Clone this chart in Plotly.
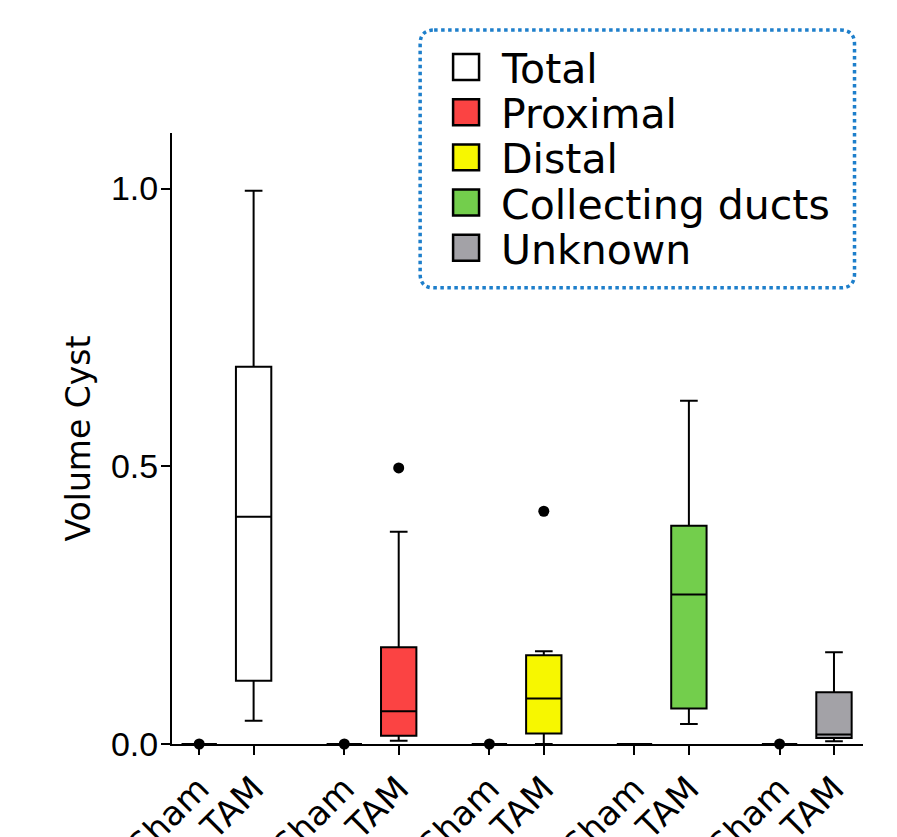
import plotly.graph_objects as go

# Tubule segments and colours
segments = ["Total", "Proximal", "Distal", "Collecting ducts", "Unknown"]
fill_colors = ["#FFFFFF", "#FB4343", "#F7F700", "#73CE4C", "#A3A2A7"]
conditions = ["Sham", "TAM"]

# Box statistics (Volume Cyst) per segment
sham_lower = [0.0, 0.0, 0.0, 0.0, 0.0]
sham_q1 = [0.0, 0.0, 0.0, 0.0, 0.0]
sham_median = [0.0, 0.0, 0.0, 0.0, 0.0]
sham_q3 = [0.0, 0.0, 0.0, 0.0, 0.0]
sham_upper = [0.0, 0.0, 0.0, 0.0, 0.0]
sham_outliers = [[0.0], [0.0], [0.0], [], [0.0]]

tam_lower = [0.042, 0.006, 0.0, 0.036, 0.005]
tam_q1 = [0.114, 0.015, 0.019, 0.064, 0.011]
tam_median = [0.409, 0.059, 0.082, 0.269, 0.017]
tam_q3 = [0.679, 0.174, 0.160, 0.393, 0.093]
tam_upper = [0.996, 0.382, 0.167, 0.618, 0.165]
tam_outliers = [[], [0.497], [0.419], [], []]

y_ticks = [0.0, 0.5, 1.0]

# Layout geometry (pixels)
FIG_W, FIG_H = 897, 837
M_L, M_R, M_T, M_B = 171.5, 33.5, 133, 92.5
GROUP_STEP = 8 / 3
X_RANGE = [-0.5, 12.2]
Y_RANGE = [0, 1.1]
PLOT_W = FIG_W - M_L - M_R
PLOT_H = FIG_H - M_T - M_B


def px_x(px):
    return (px - M_L) / PLOT_W


def px_y(py):
    return (FIG_H - M_B - py) / PLOT_H


fig = go.Figure()

tick_pos, tick_txt = [], []
stats = {
    "Sham": (sham_lower, sham_q1, sham_median, sham_q3, sham_upper, sham_outliers),
    "TAM": (tam_lower, tam_q1, tam_median, tam_q3, tam_upper, tam_outliers),
}
for g, seg in enumerate(segments):
    for i, cond in enumerate(conditions):
        lo, q1, med, q3, up, outl = stats[cond]
        xpos = g * GROUP_STEP + i
        tick_pos.append(xpos)
        tick_txt.append(cond)
        fig.add_trace(go.Box(
            x=[xpos], lowerfence=[lo[g]], q1=[q1[g]], median=[med[g]],
            q3=[q3[g]], upperfence=[up[g]],
            width=0.65, whiskerwidth=0.5,
            fillcolor=fill_colors[g],
            line=dict(color="black", width=2),
            boxpoints=False, showlegend=False, hoverinfo="skip",
        ))
        if outl[g]:
            fig.add_trace(go.Scatter(
                x=[xpos] * len(outl[g]), y=outl[g], mode="markers",
                marker=dict(color="black", size=11),
                cliponaxis=False, showlegend=False, hoverinfo="skip",
            ))

# Legend drawn as a rounded dotted frame with swatches and labels
shapes = []
annotations = []
lx0, lx1, ly0, ly1, rad = 420, 855, 30, 288, 14
rx = rad / PLOT_W
ry = rad / PLOT_H
X0, X1, Y0, Y1 = px_x(lx0), px_x(lx1), px_y(ly1), px_y(ly0)
path = (
    f"M {X0 + rx},{Y1} L {X1 - rx},{Y1} Q {X1},{Y1} {X1},{Y1 - ry} "
    f"L {X1},{Y0 + ry} Q {X1},{Y0} {X1 - rx},{Y0} "
    f"L {X0 + rx},{Y0} Q {X0},{Y0} {X0},{Y0 + ry} "
    f"L {X0},{Y1 - ry} Q {X0},{Y1} {X0 + rx},{Y1} Z"
)
shapes.append(dict(type="path", xref="paper", yref="paper", path=path,
                   line=dict(color="#1E7FCB", width=3.5, dash="dot"),
                   fillcolor="rgba(0,0,0,0)", layer="above"))

row_y0, row_step, sq = 67, 45.2, 26
for k, seg in enumerate(segments):
    cy = row_y0 + k * row_step
    shapes.append(dict(type="rect", xref="paper", yref="paper",
                       x0=px_x(453), x1=px_x(453 + sq),
                       y0=px_y(cy + sq / 2), y1=px_y(cy - sq / 2),
                       fillcolor=fill_colors[k],
                       line=dict(color="black", width=2.5), layer="above"))
    annotations.append(dict(xref="paper", yref="paper", x=px_x(499), y=px_y(cy + 2),
                            xanchor="left", yanchor="middle", showarrow=False,
                            text=seg, font=dict(family="DejaVu Sans", size=41, color="black")))

fig.update_layout(
    width=FIG_W, height=FIG_H,
    margin=dict(l=M_L, r=M_R, t=M_T, b=M_B, pad=0),
    paper_bgcolor="white", plot_bgcolor="white",
    boxmode="overlay",
    showlegend=False,
    shapes=shapes, annotations=annotations,
    xaxis=dict(
        range=X_RANGE, showgrid=False, zeroline=False,
        showline=True, linecolor="black", linewidth=2,
        ticks="outside", ticklen=9, tickwidth=2, tickcolor="black",
        tickvals=tick_pos, ticktext=tick_txt, tickangle=-45,
        tickfont=dict(family="DejaVu Sans", size=34, color="black"),
        automargin=False,
    ),
    yaxis=dict(
        range=Y_RANGE, showgrid=False, zeroline=False,
        showline=True, linecolor="black", linewidth=2,
        ticks="outside", ticklen=9, tickwidth=2, tickcolor="black",
        tickvals=y_ticks, tickformat=".1f", ticklabelstandoff=-4,
        tickfont=dict(family="Liberation Sans Narrow, Liberation Sans", size=34, color="black"),
        title=dict(text="Volume Cyst", standoff=10,
                   font=dict(family="DejaVu Sans", size=33, color="black")),
        automargin=False,
    ),
)

fig.write_html("out.html")
